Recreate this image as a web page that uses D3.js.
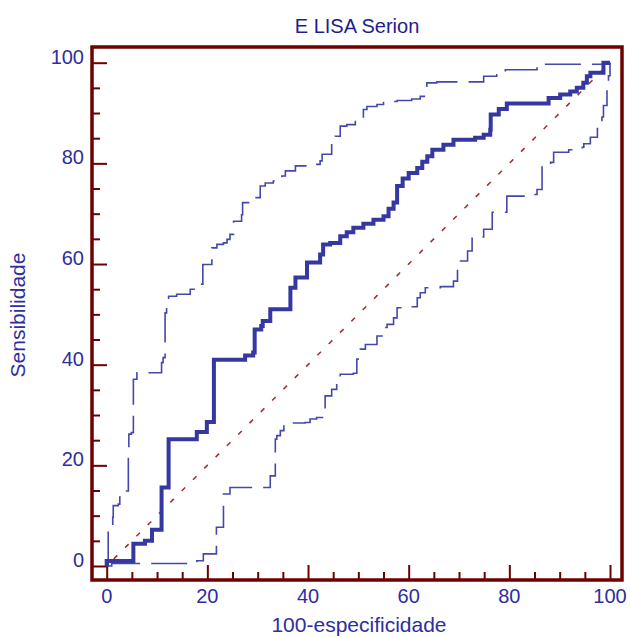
<!DOCTYPE html>
<html>
<head>
<meta charset="utf-8">
<script src="https://cdn.jsdelivr.net/npm/d3@7"></script>
<style>
  body { margin: 0; background: #fff; }
  text { font-family: "Liberation Sans", Arial, sans-serif; }
</style>
</head>
<body>
<svg id="roc" width="630" height="637"></svg>
<script>
// ROC curve, ELISA Serion
const rocPoints = [[0,0],[0,1],[5.3,1],[5.3,4.4],[7.6,4.4],[7.6,5],[9,5],[9,7.2],[10.9,7.2],[10.9,15.6],[12.3,15.6],
  [12.3,25.2],[17.9,25.2],[17.9,26.6],[19.9,26.6],[19.9,28.6],[21.3,28.6],[21.3,41],[26.5,41],[27.5,41.8],[29.1,42.4],
  [29.4,47],[30.7,47.7],[31,48.7],[32.5,51],[35.8,51],[36.5,55.3],[37.5,57.3],[39.1,57.3],[39.8,60.3],[42.4,61.9],
  [43,63.9],[44.4,64.2],[46.4,65.5],[47.7,66.3],[49,67.2],[51,68],[53,68.8],[55,69.5],[56,71],[57,72.2],[57.7,75.5],
  [58.8,77],[60,78.1],[61.7,79.1],[62.7,80.3],[63.7,81.4],[64.7,82.7],[66.9,83.7],[68.9,84.7],[73.2,85.1],[74.9,85.7],
  [76.2,86.7],[76.3,89.7],[77.9,90.8],[79.5,91.9],[87.4,91.9],[87.8,93],[90.1,93.7],[92.1,94.3],[93.4,95],[94.7,96],
  [95.4,97.3],[96.1,98],[98.7,98],[98.7,100],[100,100]];

const upperPoints = [[0,0],[0.3,5.4],[0.3,7.3],[1.2,9.7],[1.3,12],[2.3,12.3],[2.6,13.7],[3.3,14.9],[4.3,16.3],[4.3,23.5],
  [4.4,26.2],[4.9,26.5],[5.3,27],[5.3,37.1],[6,38.4],[9.3,38.4],[10.9,40.4],[11.2,41.4],[11.6,46],[11.6,50.3],[11.9,51.6],
  [12.3,53.6],[13.9,54],[16.6,55],[17.9,55.3],[18.9,56],[19.1,59.9],[20.9,61.6],[20.9,63.2],[21.9,63.9],[23.2,64.2],
  [23.9,64.9],[24.5,65.9],[25.2,68.5],[26.8,69.8],[27,72.2],[28.5,73.2],[30.5,75.5],[31.5,76.1],[33.1,76.5],[33.8,77.2],
  [34.8,77.5],[35.5,78.5],[37.5,79.5],[40.4,79.8],[42.4,80.5],[42.8,81.8],[44.7,84.1],[45.4,85.4],[46.4,87.4],[47.7,87.7],
  [49.4,88.7],[51,90.7],[51.7,91.3],[53.7,91.7],[55,92.3],[57.7,92.5],[60.6,92.8],[62.3,93.3],[63.3,94],[63.6,96],
  [65.6,96.2],[74.9,97.3],[77.5,97.6],[79.2,98.6],[82.8,98.6],[85.5,99.3],[86.1,99.7],[99.7,99.7],[100,100]];

const lowerPoints = [[0,0],[1,0.5],[14.6,0.5],[16.6,0.9],[17.9,1.05],[19.2,2.4],[21.8,2.6],[21.8,7.7],[23.2,8],[23.2,14.3],
  [24.5,15.6],[31.5,15.6],[32.5,17.9],[33.5,18.3],[33.5,25.2],[33.8,25.9],[34.5,26.9],[35.2,28.2],[36.8,28.4],[39.4,28.5],
  [40.4,29.2],[41.7,29.5],[43.4,30.5],[43.4,33.8],[44.7,35.1],[45.7,36.8],[46.4,38.1],[49,38.3],[49.7,41.1],[50.4,43.1],
  [51.4,44],[53.7,44.2],[53.7,45.7],[54.7,47.4],[55.7,48],[57,49.3],[57.7,51.3],[59.7,51.5],[61.7,53.3],[62.3,54.3],
  [63.3,55.3],[66.3,55.5],[68.9,56.6],[69.7,59.3],[70.3,60.6],[71.7,62.6],[72.6,65.4],[74.9,66.9],[76.6,68.5],[76.6,70.3],
  [79.5,72.5],[79.5,73.5],[83.5,73.8],[85.5,74.8],[86.5,77.5],[86.5,79.8],[88.2,80.2],[88.8,82.2],[91.8,82.7],[94.5,83.2],
  [94.8,83.9],[96.1,85.2],[97.5,86.9],[98.4,89.2],[98.7,91.5],[99.4,94.8],[99.7,97.4],[100,100]];

const diagonal = [[0,0],[100,100]];

const majorTicks = [0, 20, 40, 60, 80, 100];
const minorTicks = [5, 10, 15, 25, 30, 35, 45, 50, 55, 65, 70, 75, 85, 90, 95];

const title = "E LISA Serion";
const xTitle = "100-especificidade";
const yTitle = "Sensibilidade";

const frameColor = "#6e0000";
const lineColor = "#3438a0";
const textColor = "#2e2e9e";

const svg = d3.select("#roc");

const frame = { left: 92, top: 47, right: 622, bottom: 580 };

const x = d3.scaleLinear().domain([0, 100]).range([106.7, 610]);
const y = d3.scaleLinear().domain([0, 100]).range([566, 62.7]);

const line = d3.line().x(d => x(d[0])).y(d => y(d[1]));
const stepLine = d3.line().curve(d3.curveStepAfter).x(d => x(d[0])).y(d => y(d[1]));

// frame
svg.append("rect")
    .attr("x", frame.left)
    .attr("y", frame.top)
    .attr("width", frame.right - frame.left)
    .attr("height", frame.bottom - frame.top)
    .attr("fill", "none")
    .attr("stroke", frameColor)
    .attr("stroke-width", 3.5);

// ticks pointing inward
const drawTicks = (g, axis) => {
    g.call(axis).select(".domain").remove();
    g.selectAll(".tick line").attr("stroke", frameColor).attr("stroke-width", 2);
    g.selectAll(".tick text").remove();
};

svg.append("g").attr("transform", `translate(${frame.left},0)`)
    .call(drawTicks, d3.axisRight(y).tickValues(majorTicks).tickSize(15));
svg.append("g").attr("transform", `translate(${frame.left},0)`)
    .call(drawTicks, d3.axisRight(y).tickValues(minorTicks).tickSize(8));
svg.append("g").attr("transform", `translate(0,${frame.bottom})`)
    .call(drawTicks, d3.axisTop(x).tickValues(majorTicks).tickSize(15));
svg.append("g").attr("transform", `translate(0,${frame.bottom})`)
    .call(drawTicks, d3.axisTop(x).tickValues(minorTicks).tickSize(8));

// tick labels
svg.append("g").selectAll("text")
    .data(majorTicks)
    .enter().append("text")
        .attr("x", 84)
        .attr("y", d => y(d) + 1)
        .attr("text-anchor", "end")
        .attr("font-size", "20px")
        .attr("fill", textColor)
        .text(d => d);

svg.append("g").selectAll("text")
    .data(majorTicks)
    .enter().append("text")
        .attr("x", d => x(d))
        .attr("y", 603)
        .attr("text-anchor", "middle")
        .attr("font-size", "20px")
        .attr("fill", textColor)
        .text(d => d);

// diagonal reference
svg.append("path")
    .datum(diagonal)
    .attr("d", line)
    .attr("fill", "none")
    .attr("stroke", "#a83030")
    .attr("stroke-width", 1.6)
    .attr("stroke-dasharray", "5,11")
    .attr("stroke-dashoffset", -10);

// confidence bands
[upperPoints, lowerPoints].forEach(pts => {
    svg.append("path")
        .datum(pts)
        .attr("d", stepLine)
        .attr("fill", "none")
        .attr("stroke", "#4448aa")
        .attr("stroke-width", 1.6)
        .attr("stroke-dasharray", "36,11");
});

// ROC curve
svg.append("path")
    .datum(rocPoints)
    .attr("d", stepLine)
    .attr("fill", "none")
    .attr("stroke", lineColor)
    .attr("stroke-width", 4);

// titles
svg.append("text")
    .attr("x", 357)
    .attr("y", 33)
    .attr("text-anchor", "middle")
    .attr("font-size", "20px")
    .attr("fill", "#1e1e8c")
    .text(title);

svg.append("text")
    .attr("x", 359)
    .attr("y", 632)
    .attr("text-anchor", "middle")
    .attr("font-size", "21px")
    .attr("fill", textColor)
    .text(xTitle);

svg.append("text")
    .attr("transform", "translate(25,315) rotate(-90)")
    .attr("text-anchor", "middle")
    .attr("font-size", "21px")
    .attr("fill", textColor)
    .text(yTitle);
</script>
</body>
</html>
